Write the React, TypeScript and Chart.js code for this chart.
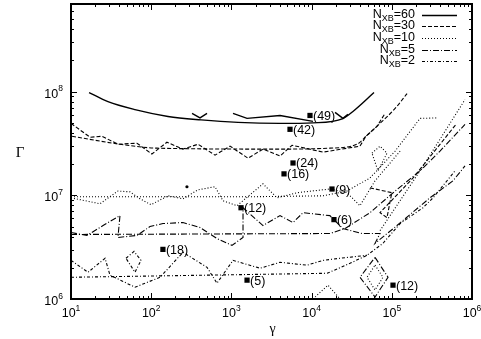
import React, { useEffect, useRef } from "react";
import { Chart, registerables } from "chart.js";

Chart.register(...registerables);

type P = [number, number][];

// ---- data (gamma, Gamma) ----
const nxb60Fit: P = [[16.8, 9.8e7], [28.9, 8.0e7], [62.8, 6.7e7], [162, 5.76e7], [418, 5.34e7], [1208, 5.05e7], [4040, 4.94e7], [10400, 5.0e7], [24600, 5.5e7], [32800, 6.44e7], [60000, 9.8e7]];
const nxb60RunA: P = [[323, 6.16e7], [406, 5.58e7], [497, 6.16e7]];
const nxb60RunB: P = [[1047, 6.16e7], [1567, 5.52e7], [4040, 5.89e7], [10400, 5.16e7]];
const nxb60RunC: P = [[19600, 6.3e7], [24600, 5.52e7], [28400, 6.03e7]];

const nxb30Fit: P = [[10.3, 3.71e7], [40.8, 3.11e7], [118, 2.85e7], [4040, 2.79e7], [16900, 2.85e7], [36800, 3.11e7], [49100, 3.79e7], [71300, 4.94e7], [110000, 6.88e7], [155000, 9.57e7]];
const nxb30Run: P = [[10, 4.94e7], [17.3, 3.63e7], [24.4, 3.71e7], [38.5, 3.11e7], [66.5, 3.18e7], [102, 2.5e7], [157, 3.25e7], [249, 2.79e7], [384, 3.11e7], [625, 2.44e7], [961, 2.98e7], [1611, 2.28e7], [2478, 2.79e7], [4040, 2.39e7], [5700, 3.04e7], [13900, 2.61e7], [40100, 2.98e7], [47600, 3.71e7], [65300, 4.62e7], [82200, 6.16e7]];
const nxb30Tail: P = [[53500, 1.18e7], [100000, 1.06e7], [87100, 6.09e6], [71300, 6.8e6], [184000, 1.47e7], [631000, 4.83e7]];

const nxb10Fit: P = [[10, 9.68e6], [1708, 9.68e6], [13900, 9.89e6], [27600, 1.1e7], [53500, 1.47e7], [110000, 2.67e7], [225000, 5.52e7], [366000, 5.58e7]];
const nxb10Run: P = [[10, 9.46e6], [23, 8.29e6], [38.5, 1.1e7], [54.4, 1.08e7], [72.4, 9.26e6], [99.5, 8.11e6], [162, 9.89e6], [249, 9.26e6], [384, 1.13e7], [625, 1.21e7], [785, 8.86e6], [1175, 7.94e6], [2478, 1.29e7], [3705, 9.46e6], [6580, 1.06e7], [16900, 1.15e7], [27600, 1.06e7], [40100, 7.94e6], [61800, 1.38e7], [127000, 2.67e7]];
const nxb10Tail: P = [[71300, 4.57e6], [225000, 1.72e7], [818000, 8.38e7]];
const nxb10Loop: P = [[56600, 2.55e7], [71300, 2.98e7], [87100, 2.55e7], [67300, 1.72e7], [56600, 2.55e7]];
const nxb10Peak: P = [[10400, 1.0e6], [16000, 1.36e6], [22600, 1.0e6]];
const nxb10Diamond: P = [[61800, 2.12e6], [77600, 1.62e6], [61800, 1.22e6], [49100, 1.62e6], [61800, 2.12e6]];

const nxb5Fit: P = [[10, 4.19e6], [16900, 4.28e6], [26100, 4.78e6], [53500, 6.8e6], [110000, 1.1e7], [225000, 1.72e7], [399000, 2.67e7], [818000, 4.83e7]];
const nxb5Run: P = [[10, 4.38e6], [15.8, 4.1e6], [25.1, 5.11e6], [40.8, 6.37e6], [38.5, 3.92e6], [66.5, 4.1e6], [96.6, 5.0e6], [140, 5.34e6], [249, 5.46e6], [406, 4.89e6], [661, 3.83e6], [1016, 3.29e6], [1396, 3.92e6], [1396, 7.59e6], [2478, 5.11e6], [4040, 6.37e6], [5865, 5.46e6], [7822, 6.8e6], [16900, 6.37e6], [24600, 4.78e6], [42500, 4.28e6], [71300, 4.28e6], [61800, 3.44e6], [116000, 5.11e6], [299000, 9.46e6], [579000, 1.38e7], [818000, 1.92e7]];
const nxb5Diamond: P = [[61800, 2.52e6], [89700, 1.62e6], [61800, 1.045e6], [40100, 1.62e6], [61800, 2.52e6]];

const nxb2Fit: P = [[10, 1.62e6], [15600, 1.77e6], [30100, 2.21e6], [49100, 2.64e6], [77600, 3.44e6], [127000, 5.34e6], [245000, 7.59e6], [327000, 9.46e6], [614000, 1.72e7]];
const nxb2Run: P = [[10, 2.36e6], [16.3, 1.81e6], [26.6, 2.47e6], [30.6, 1.7e6], [62.8, 1.3e6], [129, 1.62e6], [249, 2.82e6], [497, 2.02e6], [661, 1.42e6], [1047, 2.36e6], [2275, 1.98e6], [4040, 2.26e6], [8777, 2.12e6], [13900, 2.36e6], [22600, 2.47e6], [49100, 2.64e6]];
const nxb2Loop: P = [[48.5, 2.47e6], [61.1, 2.88e6], [74.6, 2.36e6], [62.8, 1.81e6], [48.5, 2.47e6]];

const markerGamma = [9550, 5380, 5865, 4530, 17950, 1318, 19000, 140, 1567, 103500];
const markerRate = [5.89e7, 4.33e7, 2.05e7, 1.61e7, 1.15e7, 7.59e6, 5.83e6, 3.01e6, 1.52e6, 1.36e6];
const markerText = ["(49)", "(42)", "(24)", "(16)", "(9)", "(12)", "(6)", "(18)", "(5)", "(12)"];
const dotPoint: P = [[279, 1.21e7]];

const legendN = ["60", "30", "10", "5", "2"];
const xTickExps = [1, 2, 3, 4, 5, 6];
const yTickExps = [6, 7, 8];

const DASH: Record<string, number[]> = {
  "60": [],
  "30": [4, 2],
  "10": [1, 2],
  "5": [6, 2, 1, 2],
  "2": [3, 2, 1, 2],
};

const curves: { pts: P; n: string; fit?: boolean }[] = [
  { pts: nxb60Fit, n: "60", fit: true },
  { pts: nxb60RunA, n: "60" },
  { pts: nxb60RunB, n: "60" },
  { pts: nxb60RunC, n: "60" },
  { pts: nxb30Fit, n: "30", fit: true },
  { pts: nxb30Run, n: "30" },
  { pts: nxb30Tail, n: "30" },
  { pts: nxb10Fit, n: "10" },
  { pts: nxb10Run, n: "10" },
  { pts: nxb10Tail, n: "10" },
  { pts: nxb10Loop, n: "10" },
  { pts: nxb10Peak, n: "10" },
  { pts: nxb10Diamond, n: "10" },
  { pts: nxb5Fit, n: "5" },
  { pts: nxb5Run, n: "5" },
  { pts: nxb5Diamond, n: "5" },
  { pts: nxb2Fit, n: "2" },
  { pts: nxb2Run, n: "2" },
  { pts: nxb2Loop, n: "2" },
];

const SANS = "'Liberation Sans', Arial, sans-serif";
const SERIF = "'Liberation Serif', 'DejaVu Serif', serif";

const gnuplotFrame = {
  id: "gnuplotFrame",
  afterDatasetsDraw(chart: any) {
    const { ctx, chartArea: a, scales } = chart;
    const x = scales.x;
    const y = scales.y;
    ctx.save();
    ctx.strokeStyle = "#000";
    ctx.fillStyle = "#000";
    ctx.lineWidth = 1;
    ctx.setLineDash([]);
    const seg = (x1: number, y1: number, x2: number, y2: number) => {
      ctx.beginPath();
      ctx.moveTo(x1, y1);
      ctx.lineTo(x2, y2);
      ctx.stroke();
    };
    // x ticks (bottom + top)
    for (let e = 1; e <= 6; e++) {
      for (let m = 1; m <= 9; m++) {
        const v = m * Math.pow(10, e);
        if (v > 1e6 * 1.0001) break;
        const px = Math.round(x.getPixelForValue(v)) + 0.5;
        const len = m === 1 ? 6 : 3;
        seg(px, a.bottom, px, a.bottom - len);
        seg(px, a.top, px, a.top + len);
      }
    }
    // y ticks (left + right)
    for (let e = 6; e <= 8; e++) {
      for (let m = 1; m <= 9; m++) {
        const v = m * Math.pow(10, e);
        if (v > 7e8 * 1.0001) break;
        const py = Math.round(y.getPixelForValue(v)) + 0.5;
        const len = m === 1 ? 6 : 3;
        seg(a.left, py, a.left + len, py);
        seg(a.right, py, a.right - len, py);
      }
    }
    // frame
    ctx.lineWidth = 2;
    ctx.strokeRect(a.left, a.top, a.right - a.left, a.bottom - a.top);

    // tick labels
    const big = `12.5px ${SANS}`;
    const small = `8.5px ${SANS}`;
    ctx.textBaseline = "alphabetic";
    ctx.textAlign = "left";
    for (const e of xTickExps) {
      const px = x.getPixelForValue(Math.pow(10, e));
      ctx.font = big;
      const w1 = ctx.measureText("10").width;
      ctx.font = small;
      const w2 = ctx.measureText(String(e)).width;
      const sx = px - (w1 + w2) / 2;
      ctx.font = big;
      ctx.fillText("10", sx, a.bottom + 18);
      ctx.font = small;
      ctx.fillText(String(e), sx + w1, a.bottom + 12);
    }
    for (const e of yTickExps) {
      const py = y.getPixelForValue(Math.pow(10, e));
      ctx.font = big;
      const w1 = ctx.measureText("10").width;
      ctx.font = small;
      const w2 = ctx.measureText(String(e)).width;
      const sx = a.left - 8 - w1 - w2;
      ctx.font = big;
      ctx.fillText("10", sx, py + 6);
      ctx.font = small;
      ctx.fillText(String(e), sx + w1, py - 0.5);
    }
    // axis titles
    ctx.font = `15px ${SERIF}`;
    ctx.textAlign = "center";
    ctx.fillText("Γ", 20, (a.top + a.bottom) / 2 + 5);
    ctx.font = `14px ${SERIF}`;
    ctx.fillText("γ", (a.left + a.right) / 2 + 1, a.bottom + 34);

    // marker labels
    ctx.font = `12.5px ${SANS}`;
    ctx.textAlign = "left";
    for (let i = 0; i < markerText.length; i++) {
      const px = x.getPixelForValue(markerGamma[i]);
      const py = y.getPixelForValue(markerRate[i]);
      ctx.fillText(markerText[i], px + 3, py + 4.5);
    }

    // legend
    legendN.forEach((n, i) => {
      const ry = a.top + 10.5 + i * 11.7;
      ctx.font = `9px ${SANS}`;
      const wSub = ctx.measureText("XB").width;
      ctx.font = `12.5px ${SANS}`;
      const wEq = ctx.measureText("=" + n).width;
      const wN = ctx.measureText("N").width;
      const right = a.right - 57;
      const start = right - wEq - wSub - wN;
      ctx.textAlign = "left";
      ctx.fillText("N", start, ry + 3);
      ctx.fillText("=" + n, start + wN + wSub, ry + 3);
      ctx.font = `9px ${SANS}`;
      ctx.fillText("XB", start + wN, ry + 6);
      ctx.lineWidth = n === "60" ? 1.4 : 1;
      ctx.setLineDash(DASH[n]);
      seg(a.right - 50, Math.round(ry) + 0.5, a.right - 15, Math.round(ry) + 0.5);
      ctx.setLineDash([]);
    });
    ctx.restore();
  },
};

export default function App() {
  const ref = useRef<HTMLCanvasElement | null>(null);
  useEffect(() => {
    if (!ref.current) return;
    const datasets: any[] = curves.map((c) => ({
      data: c.pts.map(([g, r]) => ({ x: g, y: r })),
      borderColor: "#000",
      borderWidth: c.n === "60" ? 1.4 : 1.1,
      borderDash: DASH[c.n],
      pointRadius: 0,
      fill: false,
      tension: 0,
      cubicInterpolationMode: c.fit ? "monotone" : "default",
    }));
    datasets.push({
      type: "scatter",
      data: markerGamma.map((g, i) => ({ x: g, y: markerRate[i] })),
      pointStyle: "rect",
      pointRadius: 3.7,
      backgroundColor: "#000",
      borderColor: "#000",
      borderWidth: 0,
      showLine: false,
    });
    datasets.push({
      type: "scatter",
      data: dotPoint.map(([g, r]) => ({ x: g, y: r })),
      pointStyle: "circle",
      pointRadius: 1.6,
      backgroundColor: "#000",
      borderWidth: 0,
      showLine: false,
    });
    const chart = new Chart(ref.current, {
      type: "line",
      data: { datasets },
      options: {
        animation: false,
        responsive: false,
        devicePixelRatio: 1,
        events: [],
        layout: { padding: { left: 71, top: 3, right: 9, bottom: 40 } },
        plugins: { legend: { display: false }, tooltip: { enabled: false } },
        scales: {
          x: { type: "logarithmic", min: 10, max: 1e6, display: false },
          y: { type: "logarithmic", min: 1e6, max: 7e8, display: false },
        },
      } as any,
      plugins: [gnuplotFrame],
    });
    return () => chart.destroy();
  }, []);
  return (
    <div style={{ position: "absolute", left: 0, top: 0, width: 481, height: 339, background: "#fff" }}>
      <canvas ref={ref} width={481} height={339} style={{ display: "block" }} />
    </div>
  );
}
